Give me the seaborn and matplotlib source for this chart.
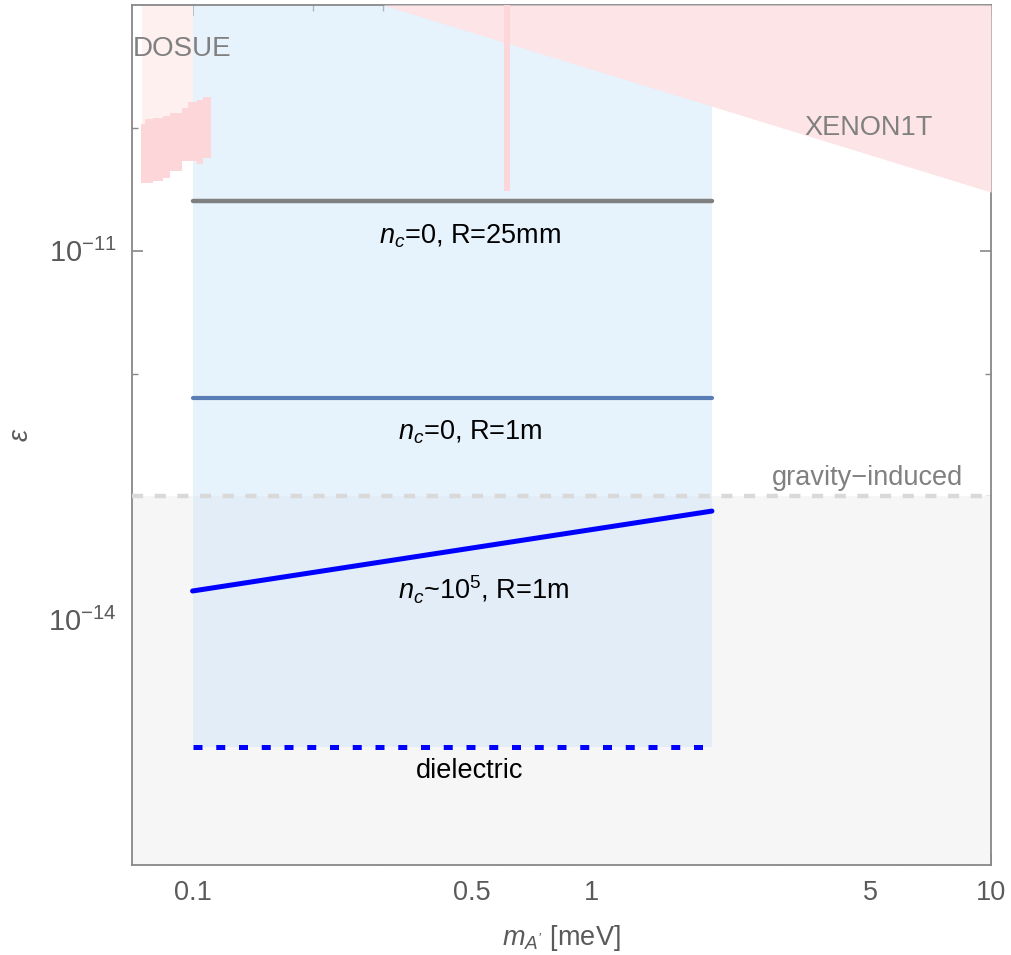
import matplotlib
matplotlib.use('Agg')
import matplotlib.pyplot as plt
from matplotlib.ticker import NullFormatter
import seaborn as sns
import pandas as pd

# ****************************************************************************
# Data
# ****************************************************************************
band_m = [0.1, 2.0]                      # sensitivity band [meV]
band_eps = [9.1e-16, 1e-9]

line_m = [0.1, 2.0]
eps_nc0_r25mm = [2.56e-11, 2.56e-11]
eps_nc0_r1m = [6.3e-13, 6.3e-13]
eps_nc1e5_r1m = [1.7e-14, 7.6e-14]
eps_dielectric = [9.1e-16, 9.1e-16]

gravity_eps = 1e-13

xenon_m = [0.3, 1.0, 3.0, 10.0]
xenon_eps = [1e-9, 3e-10, 1e-10, 3e-11]
xenon_spike_m = [0.603, 0.624]
xenon_spike_eps = [3.08e-11, 1e-9]

dosue_m = [0.0741, 0.0759, 0.0794, 0.0841, 0.0876, 0.0939, 0.0972, 0.1023, 0.1059, 0.1115]
dosue_top = [1.08e-10, 1.19e-10, 1.21e-10, 1.26e-10, 1.33e-10, 1.46e-10, 1.61e-10, 1.67e-10, 1.77e-10, 1.83e-10]
dosue_bot = [3.58e-11, 3.58e-11, 3.72e-11, 3.93e-11, 4.49e-11, 5.41e-11, 5.41e-11, 5.12e-11, 5.73e-11, 5.73e-11]
dosue_pale_m = [0.0745, 0.1]

x_lim = (0.0705, 10)
y_lim = (1e-16, 1e-9)

# ****************************************************************************
# Style
# ****************************************************************************
sns.set_theme(style='ticks')
plt.rcParams['font.family'] = ['Liberation Sans', 'DejaVu Sans']
plt.rcParams['mathtext.fontset'] = 'custom'
plt.rcParams['mathtext.rm'] = 'Liberation Sans'
plt.rcParams['mathtext.it'] = 'Liberation Sans:italic'
plt.rcParams['mathtext.bf'] = 'Liberation Sans:bold'

fig = plt.figure(figsize=(10.12, 9.55), dpi=100)
ax = fig.add_axes([0.1304, 0.0942, 0.8488, 0.9006])
ax.set_xscale('log')
ax.set_yscale('log')

# shaded regions
ax.fill_between(x_lim, y_lim[0], gravity_eps, color='#f6f6f6', lw=0, zorder=1)
ax.fill_between(dosue_pale_m, 9e-11, y_lim[1], color='#fff0f0', lw=0, zorder=1)
ax.fill_between(band_m, band_eps[0], band_eps[1], color='#cfe6fa', alpha=0.5,
                lw=0, zorder=2)
ax.fill_between(xenon_m, xenon_eps, y_lim[1], color='#fde4e6', lw=0, zorder=3)
ax.fill_between(xenon_spike_m, xenon_spike_eps[0], xenon_spike_eps[1],
                color='#fdd6d9', lw=0, zorder=3)
ax.fill_between(dosue_m, dosue_bot, dosue_top, step='post', color='#fdd6d9',
                lw=0, zorder=3)

# lines
lines = pd.DataFrame({'m': line_m, 'a': eps_nc0_r25mm, 'b': eps_nc0_r1m,
                      'c': eps_nc1e5_r1m, 'd': eps_dielectric})
sns.lineplot(data=lines, x='m', y='a', color='#7f7f7f', lw=3.2, ax=ax, zorder=5)
sns.lineplot(data=lines, x='m', y='b', color='#5a7db5', lw=3.0, ax=ax, zorder=5)
sns.lineplot(data=lines, x='m', y='c', color='#0000ff', lw=3.6, ax=ax, zorder=5)
sns.lineplot(data=lines, x='m', y='d', color='#0000ff', lw=3.6, ax=ax, zorder=5,
             dashes=False, linestyle=(0, (1.8, 2.75)))
ax.plot(x_lim, [gravity_eps, gravity_eps], color='#d9d9d9', lw=3.2,
        linestyle=(0, (2.5, 2.6)), zorder=4)

# text labels
fs = 19.5
ax.text(0.495, 1.32e-11, r'$n_c$=0, R=25mm', ha='center', va='center', fontsize=fs, color='black', zorder=6)
ax.text(0.495, 3.3e-13, r'$n_c$=0, R=1m', ha='center', va='center', fontsize=fs, color='black', zorder=6)
ax.text(0.537, 1.75e-14, r'$n_c$~$\mathregular{10^5}$, R=1m', ha='center', va='center', fontsize=fs, color='black', zorder=6)
ax.text(0.495, 5.8e-16, 'dielectric', ha='center', va='center', fontsize=fs, color='black', zorder=6)
ax.text(0.0708, 4.4e-10, 'DOSUE', ha='left', va='center', fontsize=20, color='#808080', zorder=6)
ax.text(4.95, 1.0e-10, 'XENON1T', ha='center', va='center', fontsize=fs, color='#808080', zorder=6)
ax.text(4.9, 1.42e-13, 'gravity\u2212induced', ha='center', va='center', fontsize=fs, color='#808080', zorder=6)

# axes
ax.set_xlim(*x_lim)
ax.set_ylim(*y_lim)
ax.set_xticks([0.1, 0.5, 1, 5, 10], labels=['0.1', '0.5', '1', '5', '10'])
ax.set_xticks([0.08, 0.09, 0.2, 0.3, 0.4, 0.6, 0.7, 0.8, 0.9, 2, 3, 4, 6, 7, 8, 9], minor=True)
ax.set_yticks([1e-11, 1e-14], labels=[r'$\mathregular{10^{-11}}$', r'$\mathregular{10^{-14}}$'])
ax.set_yticks([1e-10, 1e-12, 1e-13, 1e-15], minor=True)
ax.xaxis.set_minor_formatter(NullFormatter())
ax.yaxis.set_minor_formatter(NullFormatter())
ax.tick_params(which='both', direction='in', top=True, right=True, color='#888888',
               labelcolor='#5a5a5a', labelsize=19.5)
ax.tick_params(axis='y', which='major', labelsize=21)
ax.tick_params(which='major', length=8, width=1.2, pad=11)
ax.tick_params(which='minor', length=4.5, width=1.0)
for sp in ax.spines.values():
    sp.set_color('#888888')
    sp.set_linewidth(1.3)
ax.set_xlabel(r"$m_{A'}$ [meV]", fontsize=19.5, color='#5a5a5a', labelpad=12)
ax.set_ylabel(r'$\epsilon$', fontsize=19.5, color='#5a5a5a', labelpad=10)
ax.grid(False)

fig.savefig('out.png', dpi=100)
